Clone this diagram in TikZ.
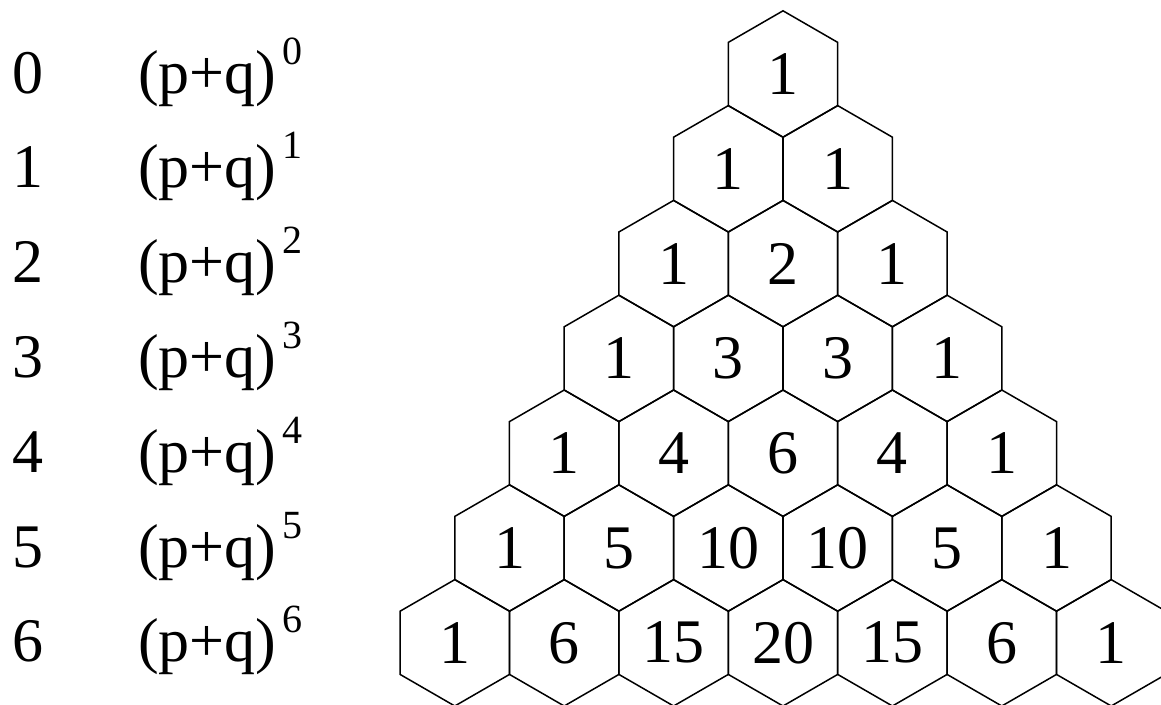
\documentclass[tikz,border=0pt]{standalone}
\usepackage{fontspec}
\setmainfont{Liberation Serif}
\usetikzlibrary{shapes.geometric}
\tikzset{
  hexcell/.style={regular polygon, regular polygon sides=6, shape border rotate=30,
    minimum size=126.4pt, inner sep=0pt, outer sep=0pt, draw=black, line width=1.5pt,
    font=\fontsize{62}{72}\selectfont},
  rowlbl/.style={anchor=base, inner sep=0pt, font=\fontsize{62}{72}\selectfont},
  expo/.style={anchor=base west, inner sep=0pt, font=\fontsize{62}{72}\selectfont}
}
\begin{document}
\begin{tikzpicture}[x=1pt,y=-1pt]
\useasboundingbox (0,0) rectangle (1161,704);
\fill[white] (0,0) rectangle (1161,704);
\clip (0,0) rectangle (1161,704);
\foreach \row [count=\r from 0] in {{1},{1,1},{1,2,1},{1,3,3,1},{1,4,6,4,1},{1,5,10,10,5,1},{1,6,15,20,15,6,1}} {
  \foreach \v [count=\i from 0] in \row {
    \node[hexcell] (h\r-\i) at ({783+(\i-\r/2)*109.4}, {74+94.8*\r}) {\v};
  }
}
\foreach \r in {0,...,6} {
  \node[rowlbl] (n\r) at (28, {93+94.8*\r}) {\r};
  \node[expo] (e\r) at (138, {93+94.8*\r}) {(p+q)\kern6pt\raisebox{29pt}{\fontsize{40}{44}\selectfont\r}};
}
\end{tikzpicture}
\end{document}
